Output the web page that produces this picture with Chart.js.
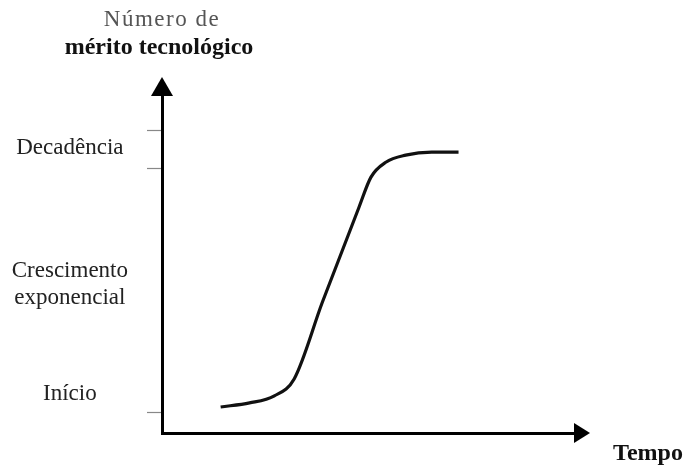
<!DOCTYPE html>
<html>
<head>
<meta charset="utf-8">
<script src="https://cdn.jsdelivr.net/npm/chart.js@4.4.0/dist/chart.umd.min.js"></script>
<style>
    html, body { margin: 0; padding: 0; background: #fff; }
    #wrap { width: 690px; height: 474px; }
</style>
</head>
<body>
<div id="wrap"><canvas id="myChart"></canvas></div>
<script>
// S-curve, both axes run 0..100
const timeValues = [14.2, 21.2, 27.2, 32.0, 38.8, 47.7, 50.6, 54.2, 59.0, 65.3, 71.8];
const meritValues = [7.7, 8.9, 11.0, 16.0, 38.6, 66.8, 75.7, 80.1, 82.2, 83.1, 83.1];

// stage names on the vertical axis and their heights
const stageLabels = [['Início'], ['Crescimento', 'exponencial'], ['Decadência']];
const stagePositions = [11.6, 43.9, 84.3];

// small tick marks on the vertical axis
const markPositions = [6.2, 78.3, 89.6];

const yTitle = ['Número de', 'mérito tecnológico'];
const xTitle = 'Tempo';

const serif = '"Liberation Serif", "Times New Roman", serif';

// arrows, tick marks and axis titles
const axisDecor = {
    id: 'axisDecor',
    afterDraw(chart) {
        const ctx = chart.ctx;
        const xs = chart.scales.x, ys = chart.scales.y;
        const left = xs.left, right = xs.right, top = ys.top, bottom = ys.bottom;
        ctx.save();

        ctx.strokeStyle = '#888';
        ctx.lineWidth = 1.2;
        markPositions.forEach(v => {
            const py = Math.round(ys.getPixelForValue(v)) + 0.5;
            ctx.beginPath();
            ctx.moveTo(left - 15, py);
            ctx.lineTo(left - 1, py);
            ctx.stroke();
        });

        // arrow heads
        ctx.fillStyle = '#000';
        ctx.beginPath();
        ctx.moveTo(left, top - 18);
        ctx.lineTo(left - 11, top + 1);
        ctx.lineTo(left + 11, top + 1);
        ctx.closePath();
        ctx.fill();
        ctx.beginPath();
        ctx.moveTo(right + 15, bottom);
        ctx.lineTo(right - 1, bottom - 10);
        ctx.lineTo(right - 1, bottom + 10);
        ctx.closePath();
        ctx.fill();

        // axis titles
        ctx.textAlign = 'center';
        ctx.textBaseline = 'middle';
        ctx.fillStyle = '#555';
        ctx.font = '23px ' + serif;
        ctx.letterSpacing = '1.5px';
        ctx.fillText(yTitle[0], left, top - 75);
        ctx.letterSpacing = '0px';
        ctx.fillStyle = '#111';
        ctx.font = 'bold 24px ' + serif;
        ctx.fillText(yTitle[1], left - 3, top - 47);
        ctx.font = 'bold 24px ' + serif;
        ctx.fillText(xTitle, right + 73, bottom + 21);
        ctx.restore();
    }
};

const ctx = document.getElementById('myChart').getContext('2d');

new Chart(ctx, {
    type: 'line',
    data: {
        datasets: [{
            data: timeValues.map((t, i) => ({ x: t, y: meritValues[i] })),
            borderColor: '#111',
            borderWidth: 3.2,
            pointRadius: 0,
            cubicInterpolationMode: 'monotone',
            fill: false
        }]
    },
    options: {
        responsive: true,
        maintainAspectRatio: false,
        animation: false,
        layout: {
            padding: { top: 95, right: 115, left: 0, bottom: 0 }
        },
        scales: {
            x: {
                type: 'linear',
                min: 0,
                max: 100,
                grid: { display: false, drawTicks: false },
                border: { display: true, width: 3, color: '#000' },
                ticks: { display: false },
                afterFit: scale => { scale.height = 41; }
            },
            y: {
                type: 'linear',
                min: 0,
                max: 100,
                grid: { display: false, drawTicks: false },
                border: { display: true, width: 3, color: '#000' },
                afterBuildTicks: scale => {
                    scale.ticks = stagePositions.map(v => ({ value: v }));
                },
                ticks: {
                    autoSkip: false,
                    crossAlign: 'center',
                    padding: 34,
                    color: '#222',
                    font: { family: serif, size: 23, lineHeight: 1.18 },
                    callback: (value, index) => stageLabels[index]
                },
                afterFit: scale => {
                    scale.width = 162;
                    // the big label padding should not push the plot area in
                    scale.paddingTop = 0;
                    scale.paddingBottom = 0;
                }
            }
        },
        plugins: {
            legend: { display: false },
            tooltip: { enabled: false }
        }
    },
    plugins: [axisDecor]
});
</script>
</body>
</html>
